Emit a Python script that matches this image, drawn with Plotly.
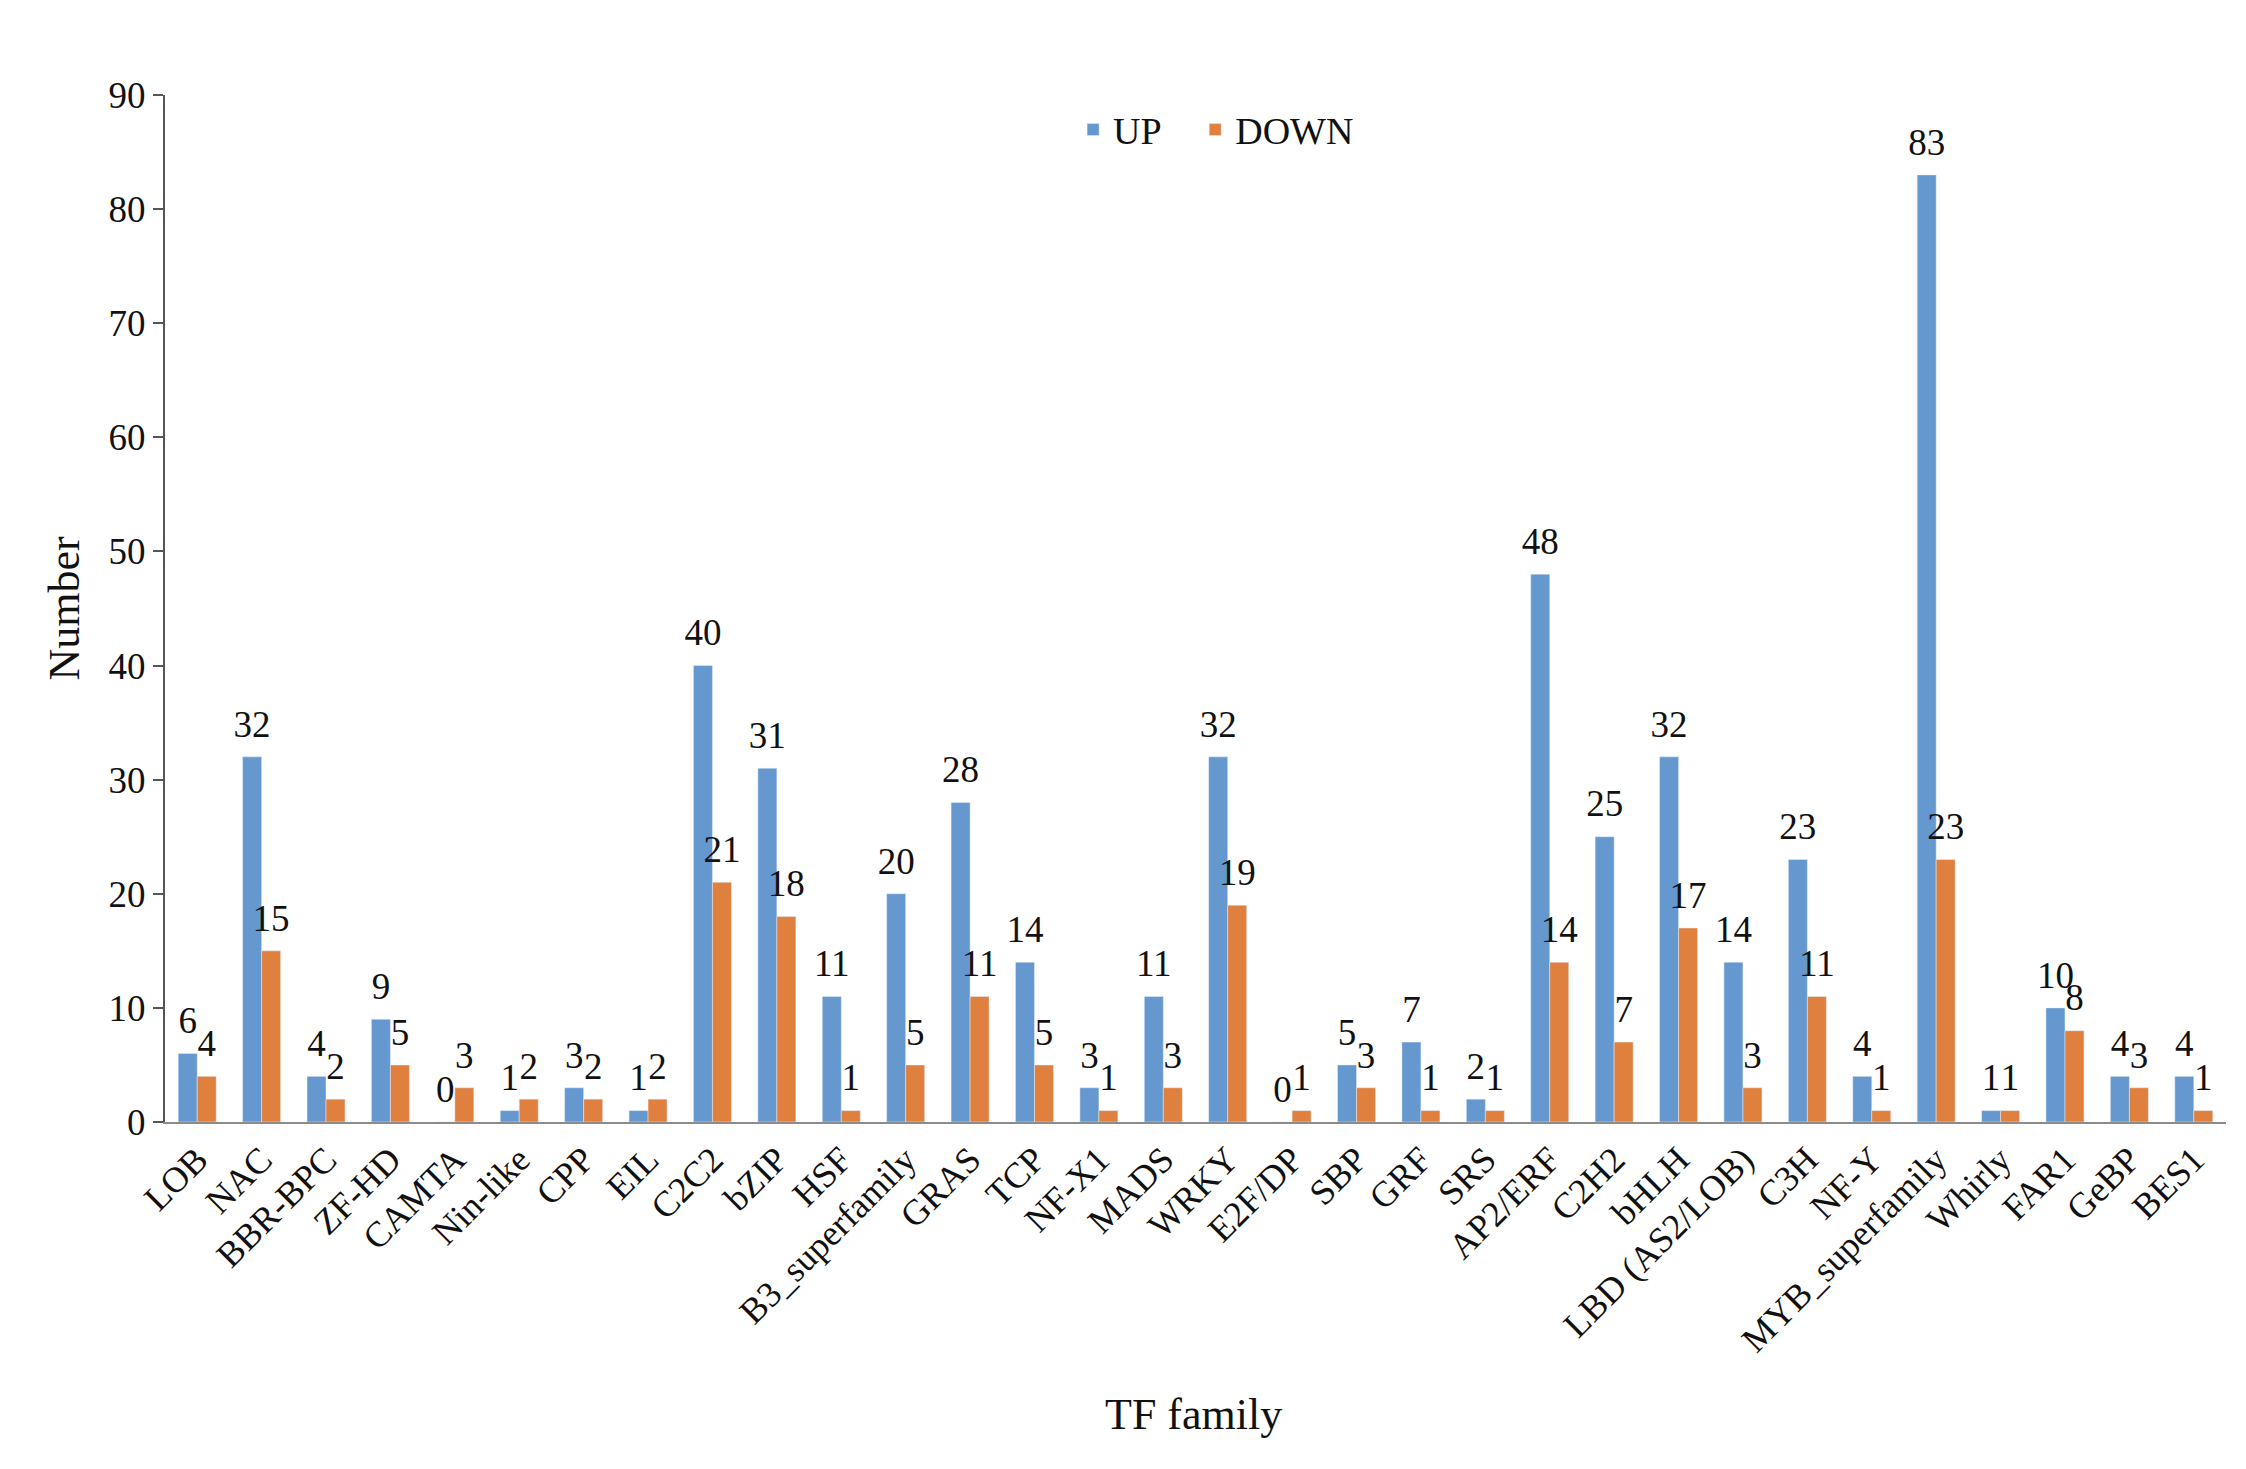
import plotly.graph_objects as go

categories = ["LOB", "NAC", "BBR-BPC", "ZF-HD", "CAMTA", "Nin-like", "CPP", "EIL",
              "C2C2", "bZIP", "HSF", "B3_superfamily", "GRAS", "TCP", "NF-X1", "MADS",
              "WRKY", "E2F/DP", "SBP", "GRF", "SRS", "AP2/ERF", "C2H2", "bHLH",
              "LBD (AS2/LOB)", "C3H", "NF-Y", "MYB_superfamily", "Whirly", "FAR1",
              "GeBP", "BES1"]
up = [6, 32, 4, 9, 0, 1, 3, 1, 40, 31, 11, 20, 28, 14, 3, 11,
      32, 0, 5, 7, 2, 48, 25, 32, 14, 23, 4, 83, 1, 10, 4, 4]
down = [4, 15, 2, 5, 3, 2, 2, 2, 21, 18, 1, 5, 11, 5, 1, 3,
        19, 1, 3, 1, 1, 14, 7, 17, 3, 11, 1, 23, 1, 8, 3, 1]
y_ticks = [0, 10, 20, 30, 40, 50, 60, 70, 80, 90]

FONT = "Liberation Serif, Times New Roman, serif"
BLUE = "#6498CF"
ORANGE = "#E0803F"
LABEL_FONT = dict(family=FONT, size=37, color="#111111")
PAD = "\u00a0\u00a0\u00a0"

fig = go.Figure()
for name, legend_name, vals, col in [("UP", "UP" + PAD, up, BLUE), ("DOWN", "DOWN", down, ORANGE)]:
    fig.add_trace(go.Bar(name=legend_name, x=categories, y=vals, marker_color=col,
                         offsetgroup=name, alignmentgroup="all"))
for name, vals in [("UP", up), ("DOWN", down)]:
    fig.add_trace(go.Scatter(x=categories, y=vals, mode="markers+text", text=vals,
                             textposition="top center", textfont=LABEL_FONT,
                             marker=dict(size=16, color="rgba(0,0,0,0)"),
                             offsetgroup=name, alignmentgroup="all",
                             showlegend=False, cliponaxis=False, hoverinfo="skip"))

fig.update_layout(
    width=2238, height=1461,
    margin=dict(l=157, r=20, t=87, b=347),
    paper_bgcolor="white", plot_bgcolor="white",
    barmode="group", scattermode="group", bargap=0.41, bargroupgap=0,
    scattergap=0.41,
    font=dict(family=FONT, size=36, color="#111111"),
    legend=dict(orientation="h", x=0.510, y=0.966, xanchor="center", yanchor="middle",
                font=dict(family=FONT, size=38, color="#111111"),
                bgcolor="rgba(0,0,0,0)", itemwidth=30, tracegroupgap=0),
    xaxis=dict(showline=True, linecolor="#8C8C8C", linewidth=2, ticks="",
               tickangle=-45, tickfont=dict(family=FONT, size=36, color="#111111"),
               showgrid=False, zeroline=False),
    yaxis=dict(range=[0, 90], tickvals=y_ticks, showline=True, linecolor="#555555",
               linewidth=2, ticks="outside", ticklen=10, tickcolor="#555555",
               tickwidth=2, showgrid=False, zeroline=False,
               tickfont=dict(family=FONT, size=37, color="#111111")),
    annotations=[
        dict(text="Number", textangle=-90, xref="paper", yref="paper",
             x=-0.049, y=0.5, xanchor="center", yanchor="middle", showarrow=False,
             font=dict(family=FONT, size=44, color="#111111")),
        dict(text="TF family", xref="paper", yref="paper",
             x=0.499, y=-0.285, xanchor="center", yanchor="middle", showarrow=False,
             font=dict(family=FONT, size=44, color="#111111")),
    ],
)

fig.write_html("out.html")
